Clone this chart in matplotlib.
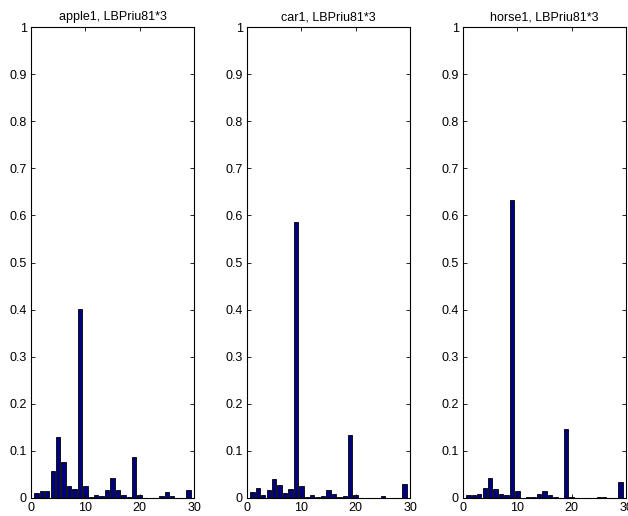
import matplotlib
matplotlib.use("Agg")
import matplotlib.pyplot as plt
import numpy as np

plt.rcParams['font.family'] = ['Liberation Sans', 'DejaVu Sans']
plt.rcParams['font.size'] = 9

titles = ["apple1, LBPriu81*3", "car1, LBPriu81*3", "horse1, LBPriu81*3"]

# histogram bins 1..29 (three concatenated LBP riu2 histograms)
apple1 = [0.011, 0.015, 0.015, 0.057, 0.129, 0.076, 0.025, 0.020, 0.401, 0.025,
          0.002, 0.006, 0.004, 0.016, 0.042, 0.017, 0.006, 0.003, 0.087, 0.006,
          0.001, 0.001, 0.001, 0.005, 0.012, 0.004, 0.001, 0.001, 0.018]
car1 = [0.012, 0.022, 0.007, 0.018, 0.040, 0.027, 0.010, 0.020, 0.587, 0.026,
        0.003, 0.007, 0.002, 0.005, 0.016, 0.008, 0.003, 0.005, 0.133, 0.006,
        0.001, 0.001, 0.001, 0.001, 0.005, 0.001, 0.001, 0.001, 0.029]
horse1 = [0.007, 0.007, 0.009, 0.021, 0.043, 0.020, 0.009, 0.007, 0.632, 0.015,
          0.001, 0.003, 0.003, 0.008, 0.014, 0.007, 0.002, 0.001, 0.146, 0.003,
          0.001, 0.001, 0.001, 0.001, 0.003, 0.002, 0.001, 0.001, 0.034]
hists = [apple1, car1, horse1]

fig = plt.figure(figsize=(6.28, 5.16), dpi=100)
lefts = [31, 247, 463]
for left, title, h in zip(lefts, titles, hists):
    ax = fig.add_axes([left / 628, 18 / 516, 163 / 628, 471 / 516])
    x = np.arange(1, len(h) + 1)
    ax.bar(x, h, width=0.8, color=(0, 0, 0.5), edgecolor='black', linewidth=0.6)
    ax.set_xlim(0, 30)
    ax.set_ylim(0, 1)
    ax.set_xticks([0, 10, 20, 30])
    ax.set_yticks(np.arange(0, 1.01, 0.1))
    ax.set_yticklabels(['0'] + ['%g' % v for v in np.arange(0.1, 0.95, 0.1)] + ['1'])
    ax.tick_params(direction='in', top=True, right=True, length=3, width=0.6, pad=3)
    for s in ax.spines.values():
        s.set_linewidth(0.8)
    ax.set_title(title, fontsize=9, pad=5)

fig.savefig("out.png", dpi=100)
